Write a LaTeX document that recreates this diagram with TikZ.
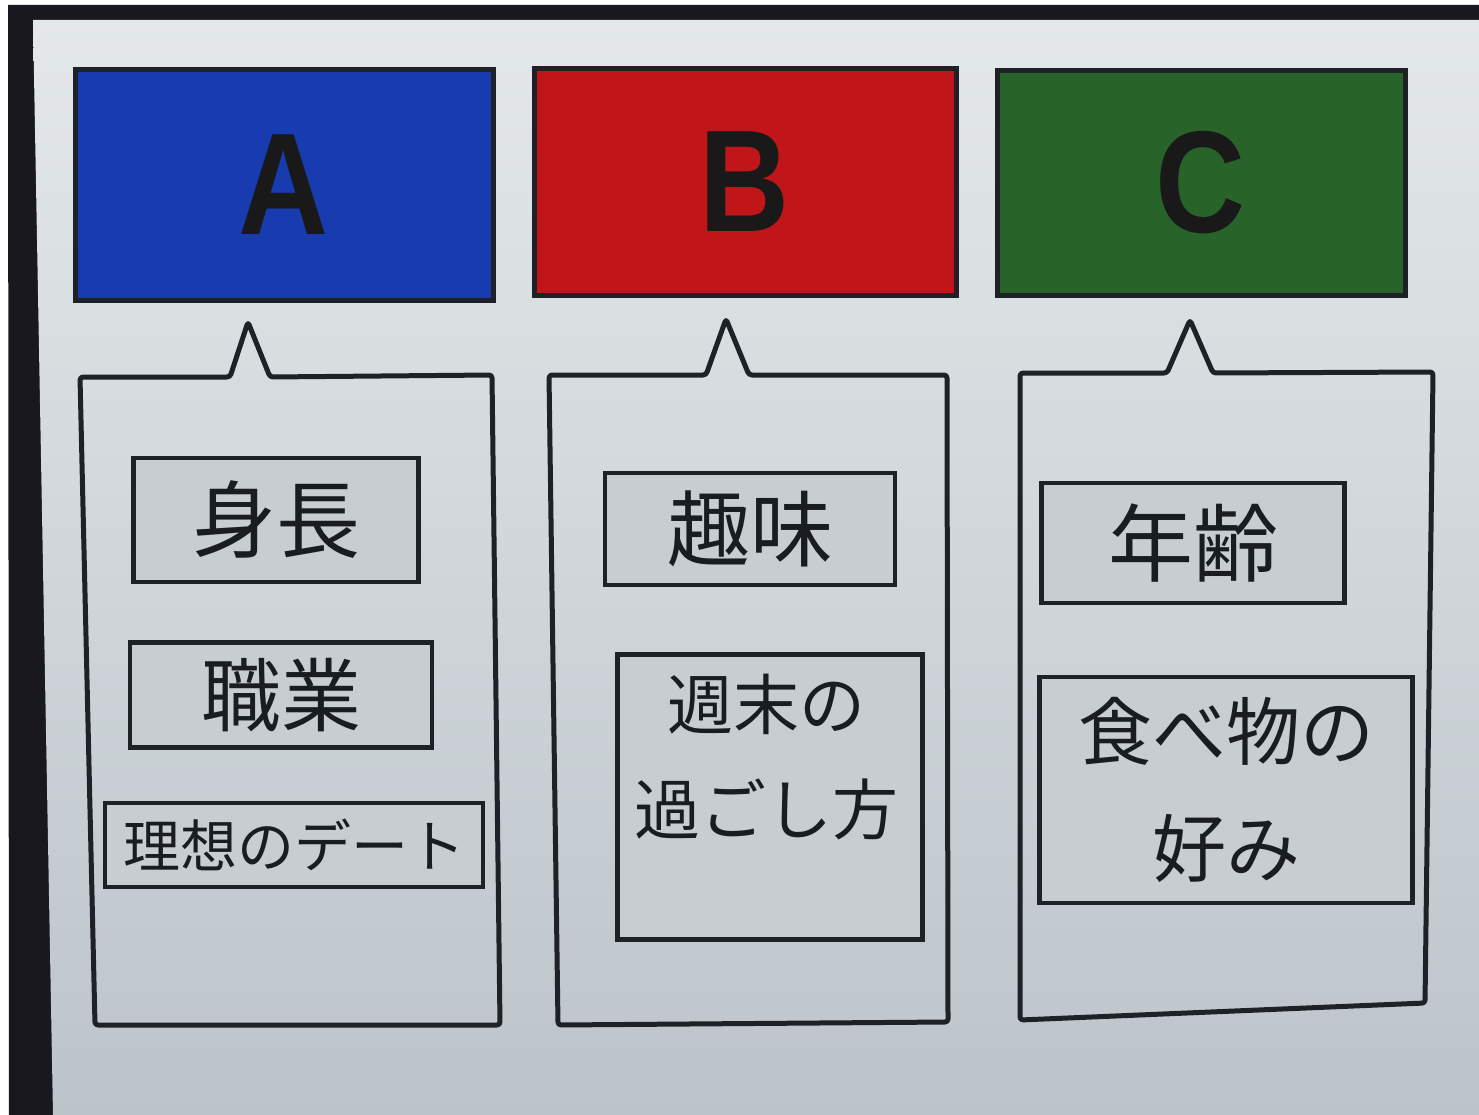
\documentclass[tikz,border=0pt]{standalone}
\usepackage{fontspec}
\usepackage{graphicx}
\newfontfamily\jp{Noto Sans CJK JP}
\newfontfamily\hdrf{Liberation Sans}
\definecolor{framec}{RGB}{24,24,30}
\definecolor{scrtop}{RGB}{228,232,234}
\definecolor{scrmid}{RGB}{214,220,223}
\definecolor{scrbot}{RGB}{188,196,202}
\definecolor{bord}{RGB}{30,34,38}
\definecolor{itemfill}{RGB}{200,205,210}
\definecolor{txt}{RGB}{26,29,32}
\definecolor{ablue}{RGB}{24,60,175}
\definecolor{bred}{RGB}{192,22,26}
\definecolor{cgreen}{RGB}{40,100,42}
\tikzset{
  hdrbox/.style={draw=bord, line width=5pt, inner sep=0pt, text=black!90,
    font=\hdrf\bfseries\fontsize{145}{145}\selectfont},
  itembox/.style={draw=bord, line width=4.5pt, fill=itemfill, inner sep=0pt,
    text=txt, align=center},
  callout/.style={draw=bord, line width=5pt, rounded corners=3pt, line join=round},
  itemtext/.style={text=txt, align=center, inner sep=0pt}
}
\begin{document}
\begin{tikzpicture}[x=1pt,y=-1pt]
\useasboundingbox (0,0) rectangle (1479,1115);
\fill[white] (0,0) rectangle (1479,1115);
\fill[framec] (8,5) -- (1479,5) -- (1479,1115) -- (9,1115) -- cycle;
\shade[top color=scrtop, middle color=scrmid, bottom color=scrbot]
  (33,20) -- (1479,20) -- (1479,1115) -- (53,1115) -- cycle;

% header boxes
\node[hdrbox, fill=ablue, minimum width=418pt, minimum height=230pt] (A) at (284,185) {\scalebox{0.86}[1]{A}};
\node[hdrbox, fill=bred, minimum width=422pt, minimum height=226pt] (B) at (745,182) {\scalebox{0.86}[1]{B}};
\node[hdrbox, fill=cgreen, minimum width=408pt, minimum height=224pt] (C) at (1201,183) {\scalebox{0.86}[1]{C}};

% callouts
\coordinate (tipA) at (248,322);
\coordinate (tipB) at (726,319);
\coordinate (tipC) at (1190,320);
\draw[callout] (80,377) -- (230,377) -- (tipA) -- (270,377) -- (492,375)
  -- (500,1025) -- (95,1025) -- cycle;
\draw[callout] (549,375) -- (706,375) -- (tipB) -- (749,375) -- (947,375)
  -- (948,1022) -- (558,1025) -- cycle;
\draw[callout] (1020,373) -- (1167,373) -- (tipC) -- (1213,373) -- (1433,372)
  -- (1425,1003) -- (1020,1020) -- cycle;

% items A
\node[itembox, minimum width=285pt, minimum height=124pt,
  font=\jp\fontsize{84}{84}\selectfont] (a1) at (276,520) {身長};
\node[itembox, minimum width=302pt, minimum height=105pt,
  font=\jp\fontsize{80}{80}\selectfont] (a2) at (281,695) {職業};
\node[itembox, minimum width=378pt, minimum height=84pt,
  font=\jp\fontsize{57}{57}\selectfont] (a3) at (294,845) {理想のデート};

% items B
\node[itembox, minimum width=290pt, minimum height=112pt,
  font=\jp\fontsize{83}{83}\selectfont] (b1) at (750,529) {趣味};
\node[itembox, minimum width=305pt, minimum height=285pt] (b2) at (770,797) {};
\node[itemtext, font=\jp\fontsize{66}{105}\selectfont] (b2t) at (766,757) {週末の\\過ごし方};

% items C
\node[itembox, minimum width=303pt, minimum height=120pt,
  font=\jp\fontsize{85}{85}\selectfont] (c1) at (1193,543) {年齢};
\node[itembox, minimum width=373pt, minimum height=226pt,
  font=\jp\fontsize{74}{117}\selectfont] (c2) at (1226,790) {食べ物の\\好み};
\end{tikzpicture}
\end{document}
